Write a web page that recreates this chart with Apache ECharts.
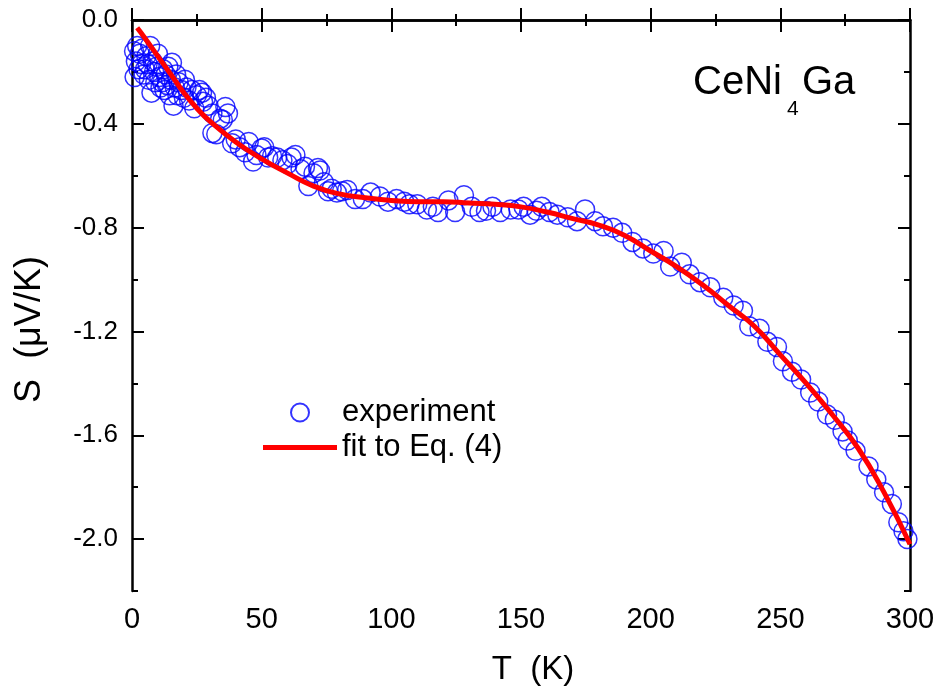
<!DOCTYPE html>
<html>
<head>
<meta charset="utf-8">
<script src="https://cdn.jsdelivr.net/npm/echarts@6/dist/echarts.min.js"></script>
<style>
  html, body { margin: 0; padding: 0; background: #fff; }
  #chart { width: 938px; height: 691px; }
</style>
</head>
<body>
<div id="chart"></div>
<script>
var expT = [0.8, 1.0, 1.5, 2.0, 2.5, 3.0, 3.5, 4.0, 4.5, 5.0, 5.5, 6.0, 6.5, 7.0, 7.5, 8.0, 8.5, 9.0, 9.5, 10.0,
  10.5, 11.0, 11.6, 12.0, 12.5, 13.0, 13.5, 14.0, 14.5, 15.0, 15.4, 16.0, 16.5, 17.0, 17.5, 18.0, 19.0, 20.0, 20.4, 21.0,
  22.0, 23.0, 24.0, 25.0, 26.0, 27.0, 27.4, 28.5, 29.5, 31.0, 31.0, 32.5, 34.0, 35.0, 36.0, 37.0, 38.6, 40.0, 41.5, 43.6,
  45.0, 46.7, 48.0, 50.0, 51.0, 52.5, 54.0, 56.0, 58.0, 60.0, 61.5, 63.0, 65.0, 66.7, 68.0, 70.0, 71.7, 72.5, 74.0, 75.6,
  77.0, 79.0, 81.0, 83.0, 86.0, 89.0, 92.0, 95.6, 98.7, 102, 105, 107, 110, 113.7, 116, 118, 122, 124.6, 128, 131,
  134, 136.5, 139, 142, 146, 149, 151, 153.5, 156, 158, 161, 164, 168, 171.6, 174.7, 178.6, 181.6, 185.5, 189, 193,
  197, 201, 205, 207.5, 212, 215, 219, 223, 228, 232, 235.6, 238, 242, 245, 248.7, 251, 254.5, 258, 261.5, 264.6,
  268, 271, 274, 276, 279, 284, 287, 290, 293, 295.5, 297.5, 299];
var expS = [-0.12, -0.22, -0.16, -0.10, -0.19, -0.13, -0.17, -0.11, -0.21, -0.19, -0.14, -0.17, -0.23, -0.10, -0.28, -0.16, -0.20, -0.24, -0.18, -0.13,
  -0.22, -0.26, -0.24, -0.19, -0.27, -0.21, -0.25, -0.18, -0.29, -0.23, -0.165, -0.33, -0.26, -0.21, -0.29, -0.24, -0.27, -0.30, -0.23, -0.26,
  -0.31, -0.27, -0.34, -0.29, -0.27, -0.28, -0.315, -0.30, -0.33, -0.36, -0.435, -0.44, -0.38, -0.385, -0.335, -0.36, -0.475, -0.46, -0.49, -0.51,
  -0.47, -0.545, -0.52, -0.495, -0.49, -0.53, -0.525, -0.53, -0.54, -0.555, -0.53, -0.52, -0.575, -0.565, -0.64, -0.59, -0.57, -0.58, -0.625, -0.66,
  -0.65, -0.665, -0.66, -0.655, -0.69, -0.69, -0.665, -0.68, -0.70, -0.69, -0.70, -0.71, -0.71, -0.73, -0.72, -0.74, -0.695, -0.74, -0.675, -0.72,
  -0.74, -0.735, -0.72, -0.74, -0.73, -0.73, -0.72, -0.75, -0.735, -0.72, -0.74, -0.75, -0.76, -0.775, -0.73, -0.775, -0.795, -0.80, -0.82, -0.855,
  -0.88, -0.90, -0.89, -0.95, -0.935, -0.98, -1.01, -1.03, -1.07, -1.10, -1.12, -1.18, -1.19, -1.24, -1.26, -1.315, -1.355, -1.385, -1.435, -1.47,
  -1.52, -1.54, -1.585, -1.62, -1.66, -1.72, -1.77, -1.82, -1.865, -1.935, -1.97, -2.0];

// fit curve, Eq. (4)
var fitT = [2, 5, 10, 15, 20, 25, 30, 40, 50, 60, 70, 80, 90, 100, 110, 120, 130, 140, 150, 160,
  170, 180, 190, 200, 210, 220, 230, 240, 250, 260, 270, 280, 290, 300];
var fitS = [-0.03, -0.07, -0.14, -0.21, -0.28, -0.34, -0.39, -0.47, -0.535, -0.59, -0.64, -0.67, -0.685, -0.695, -0.70, -0.70, -0.705, -0.71, -0.72, -0.74,
  -0.765, -0.79, -0.83, -0.89, -0.95, -1.02, -1.10, -1.18, -1.29, -1.40, -1.52, -1.65, -1.82, -2.02];

var yMajor = [0, -0.4, -0.8, -1.2, -1.6, -2.0];

var expData = [];
for (var i = 0; i < expT.length; i++) expData.push([expT[i], expS[i]]);
var fitData = [];
for (var j = 0; j < fitT.length; j++) fitData.push([fitT[j], fitS[j]]);

var font = 'Liberation Sans';
var axLine = { show: true, lineStyle: { color: '#000', width: 2.5 } };

function xAx(pos, labels) {
  return {
    type: 'value', position: pos, min: 0, max: 300, interval: 50,
    axisLine: axLine,
    axisTick: { inside: true, length: 12, lineStyle: { color: '#000', width: 2 } },
    minorTick: { show: true, splitNumber: 2, length: 6, lineStyle: { color: '#000', width: 2 } },
    splitLine: { show: false },
    axisLabel: labels ? { fontSize: 29, fontFamily: font, color: '#000', margin: 14 } : { show: false },
    name: labels ? 'T  (K)' : '',
    nameLocation: 'middle', nameGap: 62,
    nameTextStyle: { fontSize: 33, fontFamily: font, color: '#000', padding: [0, 0, 0, 24] }
  };
}
function yAx(pos, major, labels) {
  var a = {
    type: 'value', position: pos, min: -2.2, max: 0, interval: 0.2,
    axisLine: major ? axLine : { show: false },
    axisTick: { inside: true, length: major ? 12 : 6, lineStyle: { color: '#000', width: 2 } },
    splitLine: { show: false },
    axisLabel: { show: false }
  };
  if (major) a.axisTick.customValues = yMajor;
  if (labels) {
    a.axisLabel = {
      show: true, customValues: yMajor, fontSize: 26, fontFamily: font, color: '#000', margin: 14,
      formatter: function (v) { return v.toFixed(1); }
    };
    a.name = 'S  (\u03bcV/K)';
    a.nameLocation = 'middle';
    a.nameGap = 84;
    a.nameTextStyle = { fontSize: 36, fontFamily: font, color: '#000', padding: [0, 48, 0, 0] };
  }
  return a;
}

var myChart = echarts.init(document.getElementById('chart'));
myChart.setOption({
  animation: false,
  backgroundColor: '#fff',
  grid: { left: 132, right: 28, top: 20, bottom: 99 },
  xAxis: [xAx('bottom', true), xAx('top', false)],
  yAxis: [yAx('left', true, true), yAx('left', false, false), yAx('right', true, false), yAx('right', false, false)],
  legend: {
    orient: 'vertical', left: 258, top: 392,
    itemWidth: 74, itemHeight: 18, itemGap: 4,
    textStyle: { fontSize: 31, fontFamily: font, color: '#000' },
    data: [
      { name: 'experiment' },
      { name: 'fit to Eq. (4)', icon: 'path://M0,0L74,0L74,5L0,5Z' }
    ]
  },
  graphic: [
    { type: 'text', left: 693, top: 63, style: { text: 'CeNi', fontSize: 40, fontFamily: font, fill: '#000' } },
    { type: 'text', left: 787, top: 99, style: { text: '4', fontSize: 21, fontFamily: font, fill: '#000' } },
    { type: 'text', left: 802, top: 63, style: { text: 'Ga', fontSize: 40, fontFamily: font, fill: '#000' } }
  ],
  series: [
    {
      name: 'experiment', type: 'scatter', symbol: 'circle', symbolSize: 19,
      itemStyle: { color: 'rgba(0,0,0,0)', borderColor: '#0000ff', borderWidth: 1.5 },
      data: expData, z: 2
    },
    {
      name: 'fit to Eq. (4)', type: 'line', smooth: true, symbol: 'none', showSymbol: false,
      lineStyle: { color: '#ff0000', width: 5 }, itemStyle: { color: '#ff0000' },
      data: fitData, z: 3
    }
  ]
});
</script>
</body>
</html>
